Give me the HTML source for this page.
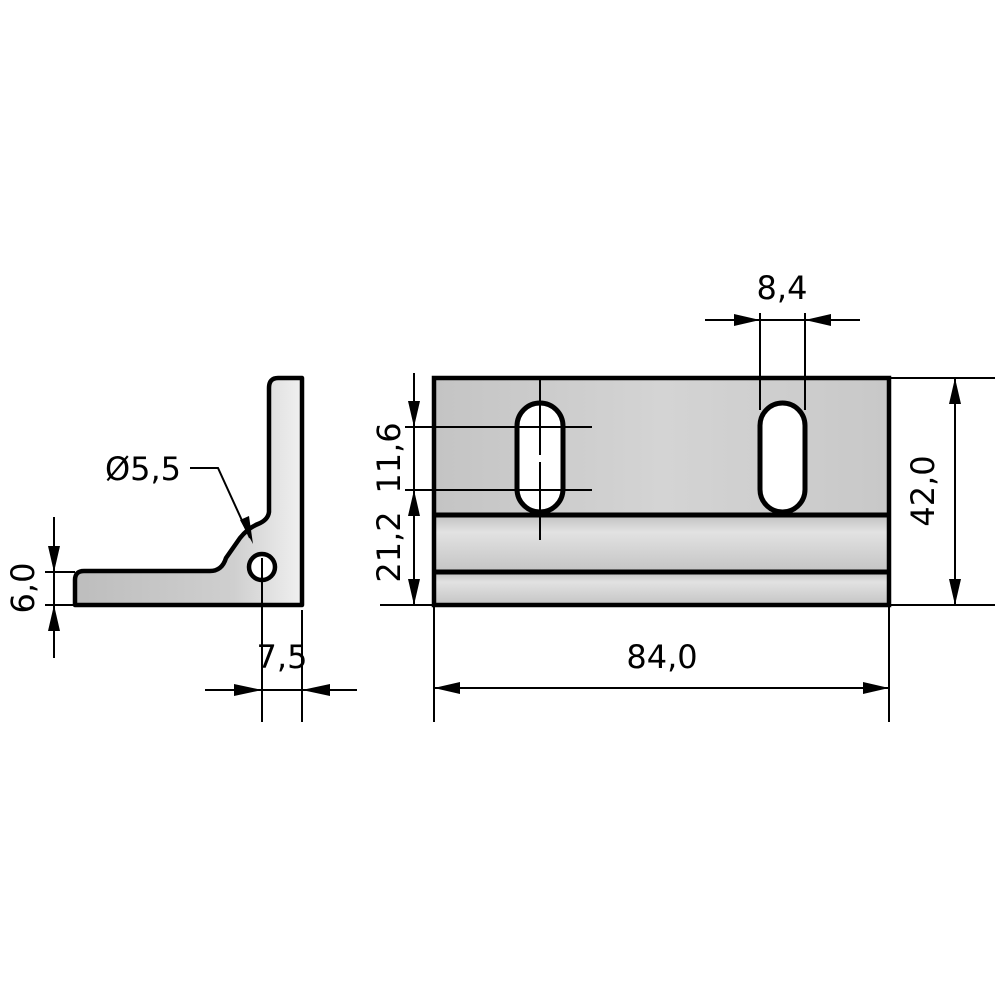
<!DOCTYPE html>
<html><head><style>html,body{margin:0;padding:0;background:#fff}svg{display:block}</style></head>
<body>
<svg width="1000" height="1000" viewBox="0 0 1000 1000" xmlns="http://www.w3.org/2000/svg" font-family="'DejaVu Sans','Liberation Sans',sans-serif" font-size="32">
<defs>
<linearGradient id="g1" x1="0" y1="0" x2="1" y2="0"><stop offset="0" stop-color="#c4c4c4"/><stop offset="0.5" stop-color="#d4d4d4"/><stop offset="1" stop-color="#c8c8c8"/></linearGradient>
<linearGradient id="g2" x1="0" y1="0" x2="0" y2="1"><stop offset="0" stop-color="#c0c0c0"/><stop offset="0.3" stop-color="#e2e2e2"/><stop offset="1" stop-color="#c4c4c4"/></linearGradient>
<linearGradient id="g3" x1="0" y1="0" x2="1" y2="0"><stop offset="0" stop-color="#bdbdbd"/><stop offset="0.7" stop-color="#cfcfcf"/><stop offset="1" stop-color="#f0f0f0"/></linearGradient>
</defs>
<path d="M302,605 L302,378 L278,378 Q269,378 269,388 L269,512 Q268,520 258,524 Q248,528 240,538 L226,558 Q222,571 210,571 L84,571 Q75,571 75,580 L75,605 Z" fill="url(#g3)" stroke="#000" stroke-width="4.5" stroke-linejoin="round"/>
<circle cx="262" cy="567" r="13" fill="#fff" stroke="#000" stroke-width="4.5"/>
<g stroke="#000" stroke-width="2" fill="none">
<line x1="262" y1="558" x2="262" y2="722"/>
<line x1="302" y1="610" x2="302" y2="722"/>
<line x1="205" y1="690" x2="357" y2="690"/>
<polyline points="190,468 218,468 250,538"/>
<line x1="54" y1="517" x2="54" y2="658"/>
<line x1="45" y1="572" x2="75" y2="572"/>
<line x1="45" y1="605" x2="75" y2="605"/>
</g>
<g fill="#000">
<polygon points="262,690 234,684 234,696"/>
<polygon points="302,690 330,684 330,696"/>
<polygon points="253,544 240,520 249,516"/>
<polygon points="54,572 48,546 60,546"/>
<polygon points="54,605 48,631 60,631"/>
</g>
<text x="143" y="480" text-anchor="middle">Ø5,5</text>
<text x="282" y="668" text-anchor="middle">7,5</text>
<text transform="translate(34,588) rotate(-90)" text-anchor="middle">6,0</text>
<rect x="434" y="378" width="455" height="137" fill="url(#g1)"/>
<rect x="434" y="515" width="455" height="57" fill="url(#g2)"/>
<rect x="434" y="572" width="455" height="33" fill="url(#g2)"/>
<rect x="434" y="378" width="455" height="227" fill="none" stroke="#000" stroke-width="4.5"/>
<line x1="434" y1="515" x2="889" y2="515" stroke="#000" stroke-width="5"/>
<line x1="434" y1="572" x2="889" y2="572" stroke="#000" stroke-width="5"/>
<rect x="517" y="403" width="46" height="109" rx="23" fill="#fff" stroke="#000" stroke-width="5"/>
<rect x="760" y="403" width="45" height="109" rx="22.5" fill="#fff" stroke="#000" stroke-width="5"/>
<g stroke="#000" stroke-width="2" fill="none">
<line x1="540" y1="380" x2="540" y2="455"/>
<line x1="540" y1="462" x2="540" y2="540"/>
<line x1="405" y1="427" x2="592" y2="427"/>
<line x1="405" y1="490" x2="592" y2="490"/>
<line x1="414" y1="373" x2="414" y2="605"/>
<line x1="380" y1="605" x2="434" y2="605"/>
<line x1="889" y1="378" x2="995" y2="378"/>
<line x1="889" y1="605" x2="995" y2="605"/>
<line x1="955" y1="378" x2="955" y2="605"/>
<line x1="434" y1="605" x2="434" y2="722"/>
<line x1="889" y1="605" x2="889" y2="722"/>
<line x1="434" y1="688" x2="889" y2="688"/>
<line x1="760" y1="313" x2="760" y2="410"/>
<line x1="805" y1="313" x2="805" y2="410"/>
<line x1="705" y1="320" x2="860" y2="320"/>
</g>
<g fill="#000">
<polygon points="414,427 408,401 420,401"/>
<polygon points="414,490 408,516 420,516"/>
<polygon points="414,605 408,579 420,579"/>
<polygon points="955,378 949,404 961,404"/>
<polygon points="955,605 949,579 961,579"/>
<polygon points="434,688 460,682 460,694"/>
<polygon points="889,688 863,682 863,694"/>
<polygon points="760,320 734,314 734,326"/>
<polygon points="805,320 831,314 831,326"/>
</g>
<text transform="translate(400,458) rotate(-90)" text-anchor="middle">11,6</text>
<text transform="translate(400,547) rotate(-90)" text-anchor="middle">21,2</text>
<text transform="translate(934,491) rotate(-90)" text-anchor="middle">42,0</text>
<text x="662" y="668" text-anchor="middle">84,0</text>
<text x="782" y="299" text-anchor="middle">8,4</text>
</svg>
</body></html>
